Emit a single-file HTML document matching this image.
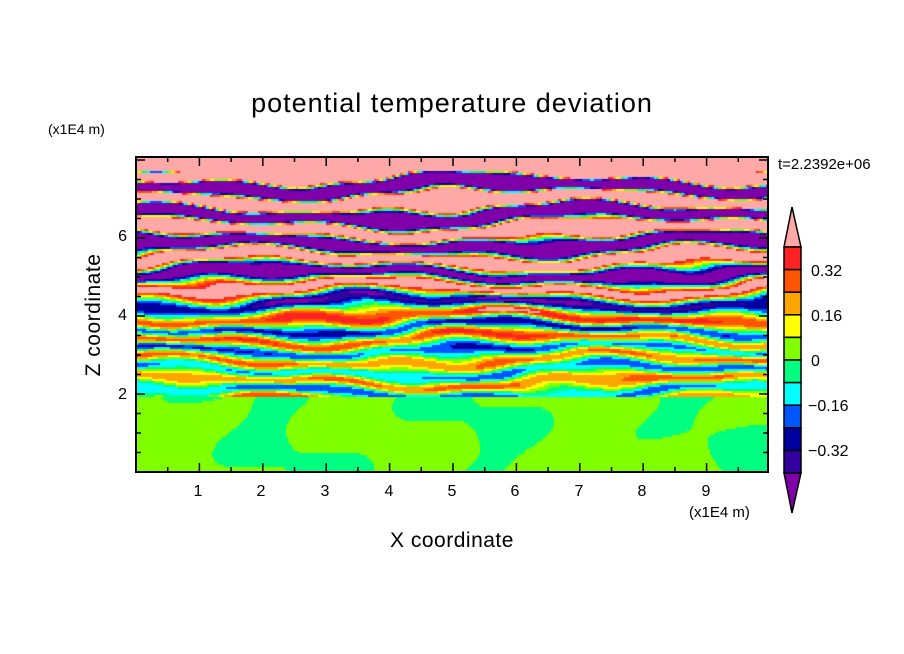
<!DOCTYPE html>
<html><head><meta charset="utf-8"><style>
html,body{margin:0;padding:0;background:#fff;}
#w{position:relative;width:904px;height:654px;overflow:hidden;font-family:"Liberation Sans",sans-serif;}
canvas{position:absolute;left:136px;top:157px;}
svg{position:absolute;left:0;top:0;}
</style></head><body><div id="w">
<canvas id="c" width="632" height="315"></canvas>
<svg width="904" height="654" xmlns="http://www.w3.org/2000/svg" font-family="Liberation Sans, sans-serif">
<text x="452" y="112" font-size="27" text-anchor="middle" letter-spacing="1">potential temperature deviation</text>
<text x="48" y="134" font-size="14">(x1E4 m)</text>
<text x="778" y="169" font-size="15">t=2.2392e+06</text>
<text x="452" y="547" font-size="21" text-anchor="middle" letter-spacing="0.5">X coordinate</text>
<text transform="translate(100,315) rotate(-90)" font-size="21" text-anchor="middle" letter-spacing="0.5">Z coordinate</text>
<text x="689" y="517" font-size="15">(x1E4 m)</text>
<g id="ticks" stroke="#000" stroke-width="1.5"></g>
<rect x="136" y="157" width="632" height="315" fill="none" stroke="#000" stroke-width="2"/>
<g font-size="16" text-anchor="middle">
<text x="198" y="496">1</text><text x="261" y="496">2</text><text x="325" y="496">3</text><text x="389" y="496">4</text><text x="452" y="496">5</text><text x="515" y="496">6</text><text x="579" y="496">7</text><text x="642" y="496">8</text><text x="706" y="496">9</text>
</g>
<g font-size="16" text-anchor="end">
<text x="127" y="399">2</text><text x="127" y="320">4</text><text x="127" y="241">6</text>
</g>
<g id="cb" stroke="#000" stroke-width="1.5"></g>
<g font-size="16">
<text x="811" y="276">0.32</text><text x="811" y="321">0.16</text><text x="811" y="366">0</text><text x="808" y="411">−0.16</text><text x="808" y="456">−0.32</text>
</g>
</svg>
</div>
<script>
var cols=["#7f00a8","#3300a0","#0000a0","#0055ff","#00ffff","#00ff80","#80ff00","#ffff00","#ffa500","#ff5500","#ff2222","#ffa8a8"];
function ci(v){var i=Math.floor(v/0.08)+6;return Math.max(0,Math.min(11,i));}
var c=document.getElementById('c').getContext('2d');
var W=632,H=315,s=2;
for(var py=0;py<H;py+=s){for(var px=0;px<W;px+=s){
 var x=px/63.3, z=8.08-py/39;
 var v;
 if(z<1.97){
  var n=Math.sin(x*1.7+z*1.3)+0.8*Math.sin(x*3.1-z*2.2+1)+0.6*Math.sin(x*0.7+z*3.5+2)+0.5;
  v=n>0?0.04:-0.04;
 } else {
  var zz=z+0.15*Math.sin(x*0.8+z*1.7)+0.08*Math.sin(x*1.9-z*3.1)+0.04*Math.sin(x*3.7+z*5);
  var ph=zz<4?2*Math.PI*zz/0.55:2*Math.PI*(4/0.55+(zz-4)/0.75);
  var A=0.22+0.08*Math.max(0,Math.min(1,z-3))+0.6*Math.max(0,(z-4))/2;
  v=A*Math.sin(ph)+0.05*Math.sin(x*1.3+z*9)+0.03;
  if(z>7.75)v=0.5;
 }
 c.fillStyle=cols[ci(v)];c.fillRect(px,py,s,s);
}}
var t='';
for(var i=1;i<=19;i++){var X=136+i*31.7;var L=(i%2==0)?9:5;t+='<line x1="'+X+'" y1="472" x2="'+X+'" y2="'+(472-L)+'"/><line x1="'+X+'" y1="157" x2="'+X+'" y2="'+(157+L)+'"/>';}
for(var j=1;j<=16;j++){var Y=472-j*19.5;var L=(j%4==0)?9:5;t+='<line x1="136" y1="'+Y+'" x2="'+(136+L)+'" y2="'+Y+'"/><line x1="768" y1="'+Y+'" x2="'+(768-L)+'" y2="'+Y+'"/>';}
document.getElementById('ticks').innerHTML=t;
var b='<polygon points="792,207 784,247 801,247" fill="'+cols[11]+'"/><polygon points="792,513 784,473 801,473" fill="'+cols[0]+'"/>';
for(var k=0;k<10;k++){var y0=247+k*22.6;b+='<rect x="784" y="'+y0+'" width="17" height="22.6" fill="'+cols[10-k]+'"/>';}
document.getElementById('cb').innerHTML=b;
</script>
</body></html>
